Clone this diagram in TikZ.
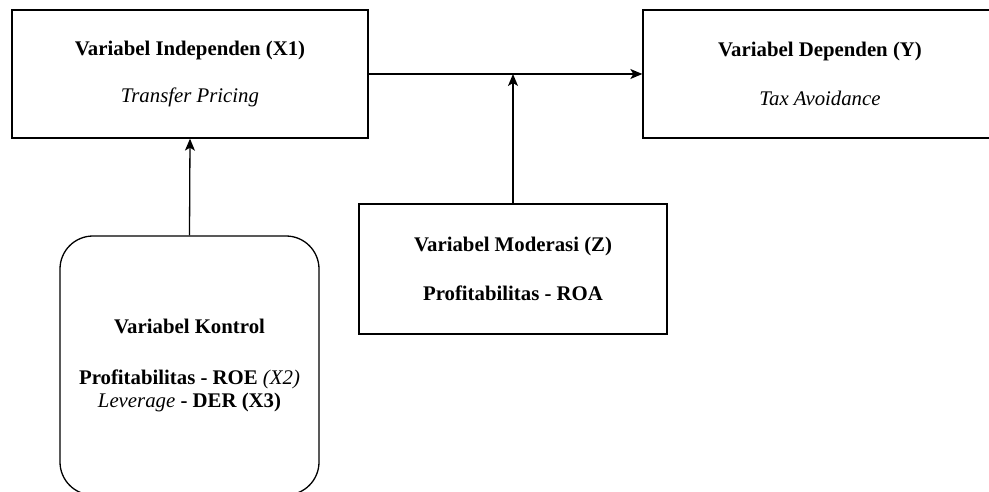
\documentclass[tikz,border=0pt]{standalone}
\usepackage{fontspec}
\setmainfont{Liberation Serif}
\usetikzlibrary{positioning, arrows.meta}
\tikzset{
  box1/.style = {
    shape = rectangle,
    draw = black,
    line width = 1.3pt,
    align = center,
    inner sep = 0pt,
    font = \fontsize{20.8}{23}\selectfont\bfseries,
  }
}
\tikzset{
  arrow1/.style = {
    draw = black, line width = 1.3pt, -{Stealth[length = 12pt, width = 10pt, inset = 3pt]},
  }
}

\begin{document}
\begin{tikzpicture}[x = 1pt, y = -1pt]
        \useasboundingbox (0,0) rectangle (989,492);
        \clip (0,0) rectangle (989,492);
        \node[box1, minimum width = 356pt, minimum height = 128pt](indep) at (190,74)
            {Variabel Independen (X1)\\[24pt]\textit{\mdseries Transfer Pricing}};
        \node[box1, minimum width = 354pt, minimum height = 128pt](dep) at (820,74)
            {Variabel Dependen (Y)\\[26pt]\textit{\mdseries Tax Avoidance}};
        \node[box1, minimum width = 308pt, minimum height = 130pt](mod) at (513,269)
            {Variabel Moderasi (Z)\\[26pt]Profitabilitas - ROA};
        \node[box1, rounded corners = 33pt, minimum width = 259pt, minimum height = 259pt](ctrl) at (189.5,365.5)
            {Variabel Kontrol\\[28pt]Profitabilitas - ROE \textit{\mdseries(X2)}\\\textit{\mdseries Leverage} - DER (X3)};
        \coordinate (meet) at (mod.north |- indep.east);
        \draw[arrow1](indep.east) -- (dep.west);
        \draw[arrow1](mod.north) -- (meet);
        \draw[arrow1](ctrl.north) -- (indep.south);
    \end{tikzpicture}
\end{document}
